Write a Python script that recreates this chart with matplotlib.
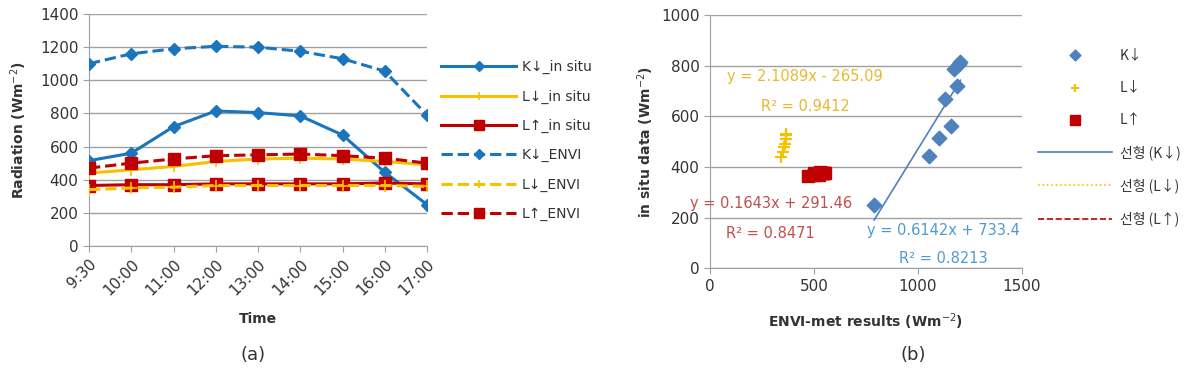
import matplotlib
matplotlib.use("Agg")
import matplotlib.pyplot as plt
import numpy as np

plt.rcParams['font.family'] = ['DejaVu Sans', 'Noto Sans CJK KR']

times = ["9:30", "10:00", "11:00", "12:00", "13:00", "14:00", "15:00", "16:00", "17:00"]
k_down_insitu = [515, 560, 720, 815, 805, 785, 670, 445, 250]
l_down_insitu = [440, 460, 480, 510, 525, 530, 525, 510, 490]
l_up_insitu = [365, 370, 370, 375, 375, 375, 375, 380, 375]
k_down_envi = [1100, 1160, 1190, 1205, 1200, 1175, 1130, 1055, 790]
l_down_envi = [340, 350, 355, 365, 365, 365, 365, 365, 360]
l_up_envi = [470, 500, 525, 545, 550, 555, 545, 530, 500]

eq_k = ["y = 0.6142x + 733.4", "R² = 0.8213"]
eq_ld = ["y = 2.1089x - 265.09", "R² = 0.9412"]
eq_lu = ["y = 0.1643x + 291.46", "R² = 0.8471"]

BLUE = '#1B75BC'
YEL = '#F7C100'
RED = '#C00000'
SBLUE = '#4F81BD'
TXT = '#333333'
GRID = '#A0A0A0'
TICKFS = 11

fig = plt.figure(figsize=(11.97, 3.72), dpi=100)

# ---------------- (a) ----------------
ax = fig.add_axes([89/1197, 1-246/372, (427-89)/1197, (246-14)/372])
x = np.arange(len(times))
h1, = ax.plot(x, k_down_insitu, '-', color=BLUE, lw=2.2, marker='D', ms=6, label='K↓_in situ', zorder=3)
h2, = ax.plot(x, l_down_insitu, '-', color=YEL, lw=2.2, marker='+', ms=8, mew=1.2, label='L↓_in situ', zorder=3)
h3, = ax.plot(x, l_up_insitu, '-', color=RED, lw=2.2, marker='s', ms=9, label='L↑_in situ', zorder=3)
h4, = ax.plot(x, k_down_envi, '--', color=BLUE, lw=2.2, marker='D', ms=6, label='K↓_ENVI', zorder=3)
h5, = ax.plot(x, l_down_envi, '--', color=YEL, lw=2.2, marker='+', ms=8, mew=1.2, label='L↓_ENVI', zorder=3)
h6, = ax.plot(x, l_up_envi, '--', color=RED, lw=2.2, marker='s', ms=9, label='L↑_ENVI', zorder=3)
ax.set_xlim(0, len(times) - 1)
ax.set_ylim(0, 1400)
ax.set_yticks(np.arange(0, 1401, 200))
ax.set_xticks(x)
ax.set_xticklabels(times, rotation=45, ha='right', rotation_mode='anchor')
ax.grid(axis='y', color=GRID, lw=1)
ax.set_axisbelow(True)
for s in ['top', 'right']:
    ax.spines[s].set_visible(False)
for s in ['left', 'bottom']:
    ax.spines[s].set_color(GRID)
ax.tick_params(axis='both', colors=GRID, labelcolor=TXT, labelsize=TICKFS, length=4, direction='out')
ax.set_xlabel('Time', fontsize=10, fontweight='bold', color=TXT, labelpad=10)
ax.set_ylabel('Radiation (Wm$^{-2}$)', fontsize=10, fontweight='bold', color=TXT, labelpad=8)

fig.legend(handles=[h1, h2, h3, h4, h5, h6], loc='upper left', bbox_to_anchor=(441/1197, 1-60/372),
           frameon=False, fontsize=10, handlelength=5.4, handletextpad=0.4, labelspacing=1.1,
           borderpad=0, borderaxespad=0, labelcolor=TXT, markerscale=0.8)

fig.text(253/1197, 1-355/372, '(a)', fontsize=13, ha='center', va='center', color=TXT)

# ---------------- (b) ----------------
bx = fig.add_axes([710/1197, 1-268.3/372, 311.7/1197, 253.3/372])
s1 = bx.scatter(k_down_envi, k_down_insitu, marker='D', s=55, color=SBLUE, zorder=3, label='K↓')
s2 = bx.scatter(l_down_envi, l_down_insitu, marker='+', s=70, color=YEL, lw=1.5, zorder=3, label='L↓')
s3 = bx.scatter(l_up_envi, l_up_insitu, marker='s', s=80, color=RED, zorder=3, label='L↑')

def trend(xs, ys):
    p = np.polyfit(xs, ys, 1)
    xr = np.array([min(xs), max(xs)])
    return xr, np.polyval(p, xr)

xr, yr = trend(k_down_envi, k_down_insitu)
t1, = bx.plot(xr, yr, '-', color=SBLUE, lw=1.2, zorder=2, label='선형 (K↓)')
xr, yr = trend(l_down_envi, l_down_insitu)
t2, = bx.plot(xr, yr, ':', color=YEL, lw=1.2, zorder=2, label='선형 (L↓)')
xr, yr = trend(l_up_envi, l_up_insitu)
t3, = bx.plot(xr, yr, '--', color=RED, lw=1.2, zorder=2, label='선형 (L↑)')

bx.set_xlim(0, 1500)
bx.set_ylim(0, 1000)
bx.set_xticks([0, 500, 1000, 1500])
bx.set_yticks(np.arange(0, 1001, 200))
bx.grid(axis='y', color=GRID, lw=1)
bx.set_axisbelow(True)
for s in ['top', 'right']:
    bx.spines[s].set_visible(False)
for s in ['left', 'bottom']:
    bx.spines[s].set_color(GRID)
bx.tick_params(axis='both', colors=GRID, labelcolor=TXT, labelsize=TICKFS, length=4, direction='out')
bx.set_xlabel('ENVI-met results (Wm$^{-2}$)', fontsize=10, fontweight='bold', color=TXT, labelpad=13)
bx.set_ylabel('in situ data (Wm$^{-2}$)', fontsize=10, fontweight='bold', color=TXT, labelpad=4)

bx.text(457, 756, eq_ld[0], color='#E8B830', fontsize=10.5, ha='center', va='center')
bx.text(457, 638, eq_ld[1], color='#E8B830', fontsize=10.5, ha='center', va='center')
bx.text(292, 254, eq_lu[0], color='#C0504D', fontsize=10.5, ha='center', va='center')
bx.text(290, 139, eq_lu[1], color='#C0504D', fontsize=10.5, ha='center', va='center')
bx.text(1123, 151, eq_k[0], color='#4F9BD0', fontsize=10.5, ha='center', va='center')
bx.text(1123, 39, eq_k[1], color='#4F9BD0', fontsize=10.5, ha='center', va='center')

fig.legend(handles=[s1, s2, s3, t1, t2, t3], loc='upper left', bbox_to_anchor=(1038/1197, 1-48/372),
           frameon=False, handlelength=5.3, handletextpad=0.6, labelspacing=1.32,
           borderpad=0, borderaxespad=0, labelcolor=TXT, scatterpoints=1, markerscale=0.75,
           prop={'family': ['Noto Sans CJK KR', 'DejaVu Sans'], 'size': 10})

fig.text(913/1197, 1-355/372, '(b)', fontsize=13, ha='center', va='center', color=TXT)

fig.savefig('out.png', dpi=100)
